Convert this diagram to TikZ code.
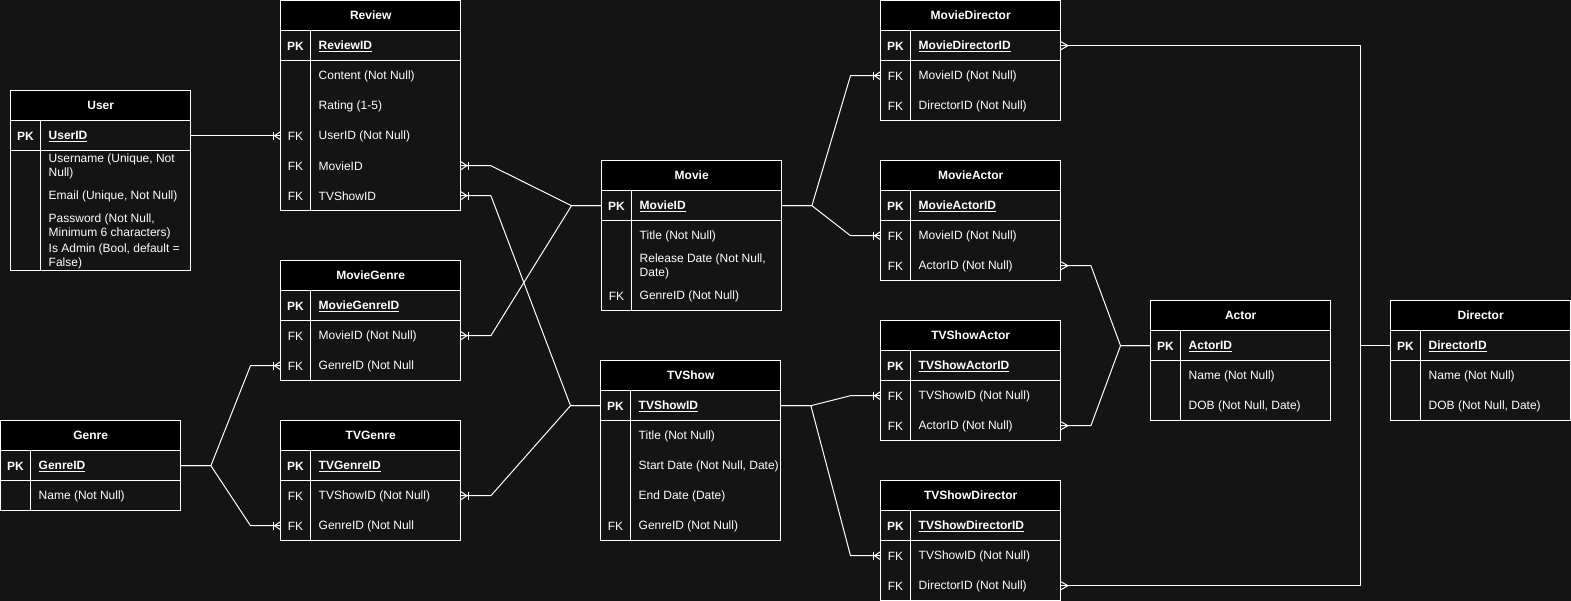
\documentclass[tikz,border=0pt]{standalone}
\usepackage{fontspec}
\setmainfont{Liberation Sans}
\definecolor{bg}{RGB}{20,20,20}
\tikzset{
  tbl/.style={draw=white, line width=1pt},
  hdr/.style={fill=black, text=white, font=\fontsize{12}{14}\selectfont\bfseries, minimum width=180pt, minimum height=30pt, inner sep=0pt},
  rowbox/.style={minimum width=180pt, minimum height=30pt, inner sep=0pt, draw=none},
  keytext/.style={text=white, inner sep=0pt},
  fieldtext/.style={text=white, inner sep=0pt, align=left},
  conn/.style={draw=white, line width=1pt, line join=round},
}
\newcommand\erhead[4]{\node[hdr, anchor=north west] (#1) at (#2,#3) {#4};}
\newcommand\errow[5]{%
  \node[rowbox, anchor=north west] (#1) at (#2,#3) {};
  \node[keytext] (#1-k) at ([xshift=15pt,yshift=-0.8pt]#1.west) {#4};
  \node[fieldtext, anchor=west] (#1-t) at ([xshift=38pt,yshift=-0.8pt]#1.west) {#5};}
\newcommand\erframe[3]{%
  \draw[tbl] (#1,#2) rectangle (#1+180,#2+60+30*#3);
  \draw[tbl] (#1,#2+30) -- (#1+180,#2+30);
  \draw[tbl] (#1,#2+60) -- (#1+180,#2+60);
  \draw[tbl] (#1+30,#2+30) -- (#1+30,#2+60+30*#3);}
\newcommand\crowbar[2]{%
  \begin{scope}[shift={(#1)}, xscale=#2]
    \draw[conn] (0,4pt) -- (6pt,0) -- (0,-4pt);
    \draw[conn] (7.5pt,4pt) -- (7.5pt,-4pt);
  \end{scope}}
\newcommand\crowmany[2]{%
  \begin{scope}[shift={(#1)}, xscale=#2]
    \draw[conn] (0,4pt) -- (7pt,0) -- (0,-4pt);
  \end{scope}}
\newcommand\PK{\textbf{PK}}
\newcommand\pkf[1]{\textbf{\underline{#1}}}
\begin{document}
\begin{tikzpicture}[x=1pt, y=-1pt, font=\fontsize{12}{14}\selectfont]
\useasboundingbox (-0.5,-0.5) rectangle (1570.5,600.5);
\fill[bg] (-0.5,-0.5) rectangle (1570.5,600.5);

% ---------- User
\erhead{user}{10}{90}{User}
\errow{user-pk}{10}{120}{\PK}{\pkf{UserID}}
\errow{user-name}{10}{150}{}{Username (Unique, Not\\Null)}
\errow{user-email}{10}{180}{}{Email (Unique, Not Null)}
\errow{user-pw}{10}{210}{}{Password (Not Null,\\Minimum 6 characters)}
\errow{user-admin}{10}{240}{}{Is Admin (Bool, default =\\False)}
\erframe{10}{90}{4}

% ---------- Review
\erhead{review}{280}{0}{Review}
\errow{review-pk}{280}{30}{\PK}{\pkf{ReviewID}}
\errow{review-content}{280}{60}{}{Content (Not Null)}
\errow{review-rating}{280}{90}{}{Rating (1-5)}
\errow{review-userid}{280}{120}{FK}{UserID (Not Null)}
\errow{review-movieid}{280}{150}{FK}{MovieID}
\errow{review-tvshowid}{280}{180}{FK}{TVShowID}
\erframe{280}{0}{5}

% ---------- MovieGenre
\erhead{mg}{280}{260}{MovieGenre}
\errow{mg-pk}{280}{290}{\PK}{\pkf{MovieGenreID}}
\errow{mg-movieid}{280}{320}{FK}{MovieID (Not Null)}
\errow{mg-genreid}{280}{350}{FK}{GenreID (Not Null}
\erframe{280}{260}{2}

% ---------- Genre
\erhead{genre}{0}{420}{Genre}
\errow{genre-pk}{0}{450}{\PK}{\pkf{GenreID}}
\errow{genre-name}{0}{480}{}{Name (Not Null)}
\erframe{0}{420}{1}

% ---------- TVGenre
\erhead{tg}{280}{420}{TVGenre}
\errow{tg-pk}{280}{450}{\PK}{\pkf{TVGenreID}}
\errow{tg-tvshowid}{280}{480}{FK}{TVShowID (Not Null)}
\errow{tg-genreid}{280}{510}{FK}{GenreID (Not Null}
\erframe{280}{420}{2}

% ---------- Movie
\erhead{movie}{601}{160}{Movie}
\errow{movie-pk}{601}{190}{\PK}{\pkf{MovieID}}
\errow{movie-title}{601}{220}{}{Title (Not Null)}
\errow{movie-release}{601}{250}{}{Release Date (Not Null,\\Date)}
\errow{movie-genreid}{601}{280}{FK}{GenreID (Not Null)}
\erframe{601}{160}{3}

% ---------- TVShow
\erhead{tvshow}{600}{360}{TVShow}
\errow{tvshow-pk}{600}{390}{\PK}{\pkf{TVShowID}}
\errow{tvshow-title}{600}{420}{}{Title (Not Null)}
\errow{tvshow-start}{600}{450}{}{Start Date (Not Null, Date)}
\errow{tvshow-end}{600}{480}{}{End Date (Date)}
\errow{tvshow-genreid}{600}{510}{FK}{GenreID (Not Null)}
\erframe{600}{360}{4}

% ---------- MovieDirector
\erhead{md}{880}{0}{MovieDirector}
\errow{md-pk}{880}{30}{\PK}{\pkf{MovieDirectorID}}
\errow{md-movieid}{880}{60}{FK}{MovieID (Not Null)}
\errow{md-directorid}{880}{90}{FK}{DirectorID (Not Null)}
\erframe{880}{0}{2}

% ---------- MovieActor
\erhead{ma}{880}{160}{MovieActor}
\errow{ma-pk}{880}{190}{\PK}{\pkf{MovieActorID}}
\errow{ma-movieid}{880}{220}{FK}{MovieID (Not Null)}
\errow{ma-actorid}{880}{250}{FK}{ActorID (Not Null)}
\erframe{880}{160}{2}

% ---------- TVShowActor
\erhead{ta}{880}{320}{TVShowActor}
\errow{ta-pk}{880}{350}{\PK}{\pkf{TVShowActorID}}
\errow{ta-tvshowid}{880}{380}{FK}{TVShowID (Not Null)}
\errow{ta-actorid}{880}{410}{FK}{ActorID (Not Null)}
\erframe{880}{320}{2}

% ---------- TVShowDirector
\erhead{td}{880}{480}{TVShowDirector}
\errow{td-pk}{880}{510}{\PK}{\pkf{TVShowDirectorID}}
\errow{td-tvshowid}{880}{540}{FK}{TVShowID (Not Null)}
\errow{td-directorid}{880}{570}{FK}{DirectorID (Not Null)}
\erframe{880}{480}{2}

% ---------- Actor
\erhead{actor}{1150}{300}{Actor}
\errow{actor-pk}{1150}{330}{\PK}{\pkf{ActorID}}
\errow{actor-name}{1150}{360}{}{Name (Not Null)}
\errow{actor-dob}{1150}{390}{}{DOB (Not Null, Date)}
\erframe{1150}{300}{2}

% ---------- Director
\erhead{director}{1390}{300}{Director}
\errow{director-pk}{1390}{330}{\PK}{\pkf{DirectorID}}
\errow{director-name}{1390}{360}{}{Name (Not Null)}
\errow{director-dob}{1390}{390}{}{DOB (Not Null, Date)}
\erframe{1390}{300}{2}

% ---------- Connectors
\draw[conn] (user-pk.east) -- (review-userid.west);
\crowbar{review-userid.west}{-1}

\draw[conn] (review-movieid.east) -- ++(30pt,0) -- ([xshift=-30pt]movie-pk.west) -- (movie-pk.west);
\crowbar{review-movieid.east}{1}

\draw[conn] (review-tvshowid.east) -- ++(30pt,0) -- ([xshift=-30pt]tvshow-pk.west) -- (tvshow-pk.west);
\crowbar{review-tvshowid.east}{1}

\draw[conn] (mg-movieid.east) -- ++(30pt,0) -- ([xshift=-30pt]movie-pk.west) -- (movie-pk.west);
\crowbar{mg-movieid.east}{1}

\draw[conn] (genre-pk.east) -- ++(30pt,0) -- ([xshift=-30pt]mg-genreid.west) -- (mg-genreid.west);
\crowbar{mg-genreid.west}{-1}

\draw[conn] (genre-pk.east) -- ++(30pt,0) -- ([xshift=-30pt]tg-genreid.west) -- (tg-genreid.west);
\crowbar{tg-genreid.west}{-1}

\draw[conn] (tg-tvshowid.east) -- ++(30pt,0) -- ([xshift=-30pt]tvshow-pk.west) -- (tvshow-pk.west);
\crowbar{tg-tvshowid.east}{1}

\draw[conn] (movie-pk.east) -- ++(30pt,0) -- ([xshift=-30pt]md-movieid.west) -- (md-movieid.west);
\crowbar{md-movieid.west}{-1}

\draw[conn] (movie-pk.east) -- ++(30pt,0) -- ([xshift=-30pt]ma-movieid.west) -- (ma-movieid.west);
\crowbar{ma-movieid.west}{-1}

\draw[conn] (tvshow-pk.east) -- ++(30pt,0) -- ([xshift=-30pt]ta-tvshowid.west) -- (ta-tvshowid.west);
\crowbar{ta-tvshowid.west}{-1}

\draw[conn] (tvshow-pk.east) -- ++(30pt,0) -- ([xshift=-30pt]td-tvshowid.west) -- (td-tvshowid.west);
\crowbar{td-tvshowid.west}{-1}

\draw[conn] (ma-actorid.east) -- ++(30pt,0) -- ([xshift=-30pt]actor-pk.west) -- (actor-pk.west);
\crowmany{ma-actorid.east}{1}

\draw[conn] (ta-actorid.east) -- ++(30pt,0) -- ([xshift=-30pt]actor-pk.west) -- (actor-pk.west);
\crowmany{ta-actorid.east}{1}

\draw[conn] (md-pk.east) -| ([xshift=-30pt]director-pk.west) -- (director-pk.west);
\crowmany{md-pk.east}{1}

\draw[conn] (td-directorid.east) -| ([xshift=-30pt]director-pk.west) -- (director-pk.west);
\crowmany{td-directorid.east}{1}
\end{tikzpicture}
\end{document}
